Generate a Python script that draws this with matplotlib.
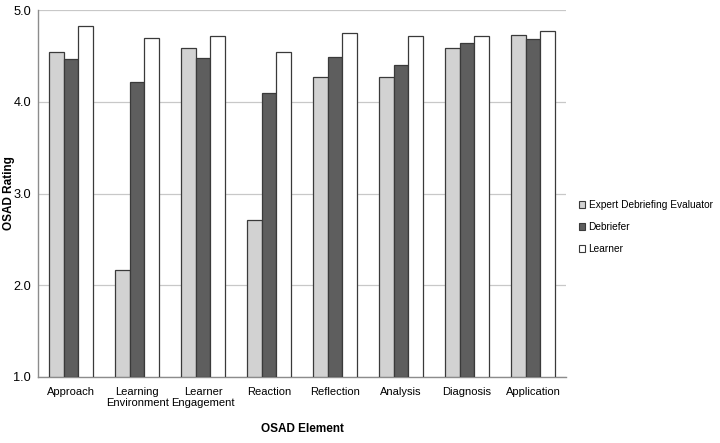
import numpy as np
import matplotlib as mpl
mpl.use("Agg")
import matplotlib.pyplot as plt
from matplotlib.patches import Patch
from matplotlib import font_manager as fm

# ---------- data ----------
categories = ["Approach", "Learning\nEnvironment", "Learner\nEngagement", "Reaction",
              "Reflection", "Analysis", "Diagnosis", "Application"]
expert = [4.54, 2.17, 4.59, 2.71, 4.27, 4.27, 4.59, 4.73]
debriefer = [4.47, 4.22, 4.48, 4.10, 4.49, 4.40, 4.64, 4.69]
learner = [4.83, 4.70, 4.72, 4.54, 4.75, 4.72, 4.72, 4.77]
series_names = ["Expert Debriefing Evaluator", "Debriefer", "Learner"]
yticks = [1.0, 2.0, 3.0, 4.0, 5.0]

names = {f.name for f in fm.fontManager.ttflist}
FAM = ["Liberation Sans Narrow", "Liberation Sans"] if "Liberation Sans Narrow" in names \
    else ["Liberation Sans", "DejaVu Sans"]
mpl.rcParams["font.family"] = FAM
narrow = "Liberation Sans Narrow" in names
FS = 9.5 if narrow else 8.0

COLS = ["#d2d2d2", "#5e5e5e", "#ffffff"]
EDGE = "#3a3a3a"

fig = plt.figure(figsize=(7.2, 4.43), dpi=100)
ax = fig.add_axes([0.053, 0.149, 0.733, 0.828])

x = np.arange(len(categories))
w = 0.22
for i, (vals, c) in enumerate(zip([expert, debriefer, learner], COLS)):
    ax.bar(x + (i - 1) * w, np.array(vals) - 1.0, bottom=1.0, width=w,
           color=c, edgecolor=EDGE, linewidth=0.9, zorder=3)

ax.set_xlim(-0.5, len(categories) - 0.5)
ax.set_ylim(1.0, 5.0)
ax.set_yticks(yticks)
ax.set_yticklabels([f"{v:.1f}" for v in yticks], fontsize=FS + 1.2)
ax.set_xticks(x)
ax.set_xticklabels(categories, fontsize=FS, linespacing=1.15)
ax.tick_params(length=0, pad=7)
ax.tick_params(axis="y", pad=5)
ax.grid(axis="y", color="#c8c8c8", lw=0.9, zorder=0)
for s in ("top", "right"):
    ax.spines[s].set_visible(False)
for s in ("left", "bottom"):
    ax.spines[s].set_color("#8c8c8c")
    ax.spines[s].set_linewidth(1.0)

fig.text(0.012, 0.565, "OSAD Rating", rotation=90, ha="center", va="center",
         fontsize=FS + 0.5, fontweight="bold")
fig.text(0.42, 0.018, "OSAD Element", ha="center", va="bottom",
         fontsize=FS + 0.5, fontweight="bold")

handles = [Patch(fc=c, ec=EDGE, lw=0.8) for c in COLS]
fig.legend(handles, series_names, loc="center left", bbox_to_anchor=(0.804, 0.487),
           frameon=False, fontsize=FS - 0.7, handlelength=0.65, handleheight=0.65,
           handletextpad=0.3, labelspacing=1.2, borderaxespad=0, borderpad=0)

fig.savefig("out.png", dpi=100)
